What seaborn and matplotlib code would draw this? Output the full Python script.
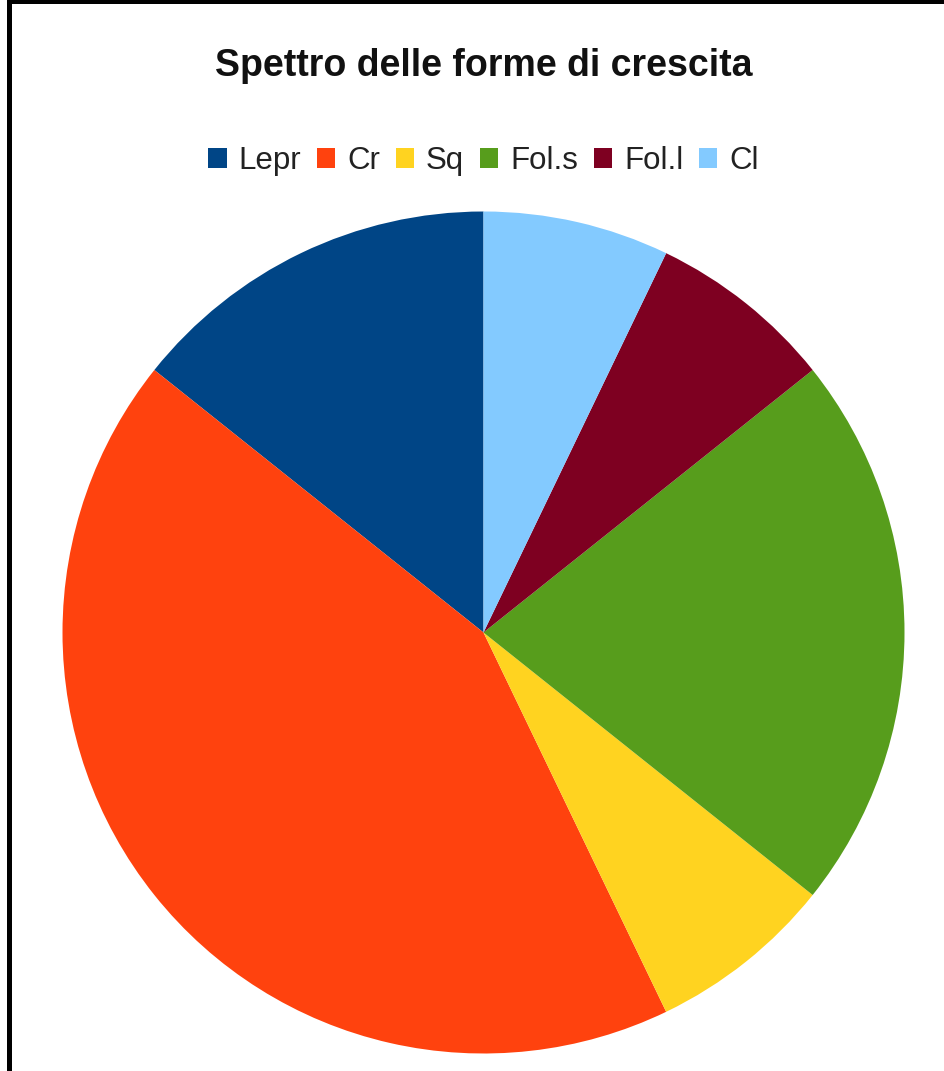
import matplotlib
matplotlib.use("Agg")
import matplotlib.pyplot as plt
from matplotlib.patches import Patch, Rectangle
import seaborn as sns

# Growth-form spectrum (counts per form)
forms = ["Lepr", "Cr", "Sq", "Fol.s", "Fol.l", "Cl"]
counts = [2, 6, 1, 3, 1, 1]
form_colors = ["#004586", "#ff420e", "#ffd320", "#579d1c", "#7e0021", "#83caff"]
title_text = "Spettro delle forme di crescita"

sns.set_theme(style="white")
plt.rcParams["font.family"] = ["Liberation Sans", "DejaVu Sans"]

W, H, DPI = 945, 1071, 100
fig = plt.figure(figsize=(W / DPI, H / DPI), dpi=DPI, facecolor="white")

# pie axes: centre (483.5, 632.5) px, radius 421 px
cx, cy, r = 483.5, 632.5, 421
ax = fig.add_axes([(cx - r) / W, (H - cy - r) / H, 2 * r / W, 2 * r / H])
palette = sns.color_palette(form_colors)
ax.pie(counts, colors=palette, startangle=90, counterclock=True,
       radius=1, wedgeprops=dict(linewidth=0), center=(0, 0))
ax.set_xlim(-1, 1)
ax.set_ylim(-1, 1)
ax.set_aspect("equal")
ax.axis("off")

# title
fig.text(483.5 / W, 1 - 76.5 / H, title_text, ha="center", va="baseline",
         fontsize=27, fontweight="bold", color="#111111")

# legend in one row
handles = [Patch(facecolor=c, edgecolor="none") for c in palette]
fs = 22.5
fig.legend(handles, forms, loc="center", ncol=len(forms),
           bbox_to_anchor=(483.5 / W, 1 - 161 / H), frameon=False,
           fontsize=fs, handlelength=0.58, handleheight=0.58,
           handletextpad=0.39, columnspacing=0.5, borderpad=0,
           labelcolor="#222222")

# frame lines along the top and left edges
fig.add_artist(Rectangle((7 / W, 1 - 4 / H), 1, 4 / H, transform=fig.transFigure,
                         facecolor="black", edgecolor="none"))
fig.add_artist(Rectangle((7 / W, 0), 5 / W, 1, transform=fig.transFigure,
                         facecolor="black", edgecolor="none"))

fig.savefig("out.png", dpi=DPI, facecolor="white")
